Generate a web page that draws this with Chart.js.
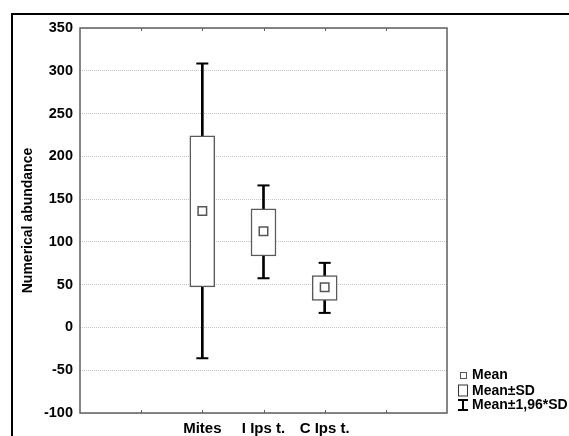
<!DOCTYPE html>
<html>
<head>
<meta charset="utf-8">
<script src="https://cdn.jsdelivr.net/npm/chart.js@4.4.1/dist/chart.umd.min.js"></script>
<style>
  html, body { margin: 0; padding: 0; background: #fff; }
  #wrap { width: 569px; height: 436px; position: relative; }
</style>
</head>
<body>
<div id="wrap"><canvas id="myChart"></canvas></div>
<script>
// categories and values
const categories = ["Mites", "I Ips t.", "C Ips t."];
const means = [136, 112.5, 47];
const sdLow = [47.5, 83.5, 31.5];
const sdHigh = [224, 138.5, 60.5];
const ciLow = [-36, 57.5, 17];
const ciHigh = [308.5, 166, 75.5];
const yMin = -100;
const yMax = 350;
const yStep = 50;
const legendLabels = ["Mean", "Mean\u00b1SD", "Mean\u00b11,96*SD"];

// two empty slots on each side, like the original axis
const pad = (a) => [null, null, ...a, null, null];
const labels = pad(categories).map((c) => (c === null ? "" : c));

Chart.defaults.font.family = "'Liberation Sans', Arial, sans-serif";
Chart.defaults.font.weight = "bold";
Chart.defaults.font.size = 14;
Chart.defaults.color = "#000";

const frame = {
  id: "frame",
  afterDraw(chart) {
    const ctx = chart.ctx;
    const a = chart.chartArea;
    const x = chart.scales.x;
    ctx.save();
    // outer black frame
    ctx.strokeStyle = "#000";
    ctx.lineWidth = 2;
    ctx.strokeRect(12, 14, 700, 600);
    // plot box
    ctx.strokeStyle = "#5f5f5f";
    ctx.lineWidth = 1.5;
    ctx.strokeRect(a.left, a.top, a.right - a.left, a.bottom - a.top);
    // small inward ticks on top and bottom
    ctx.lineWidth = 1;
    for (let i = 1; i < labels.length - 1; i++) {
      const px = Math.round(x.getPixelForTick(i)) + 0.5;
      ctx.beginPath();
      ctx.moveTo(px, a.top);
      ctx.lineTo(px, a.top + 3);
      ctx.moveTo(px, a.bottom);
      ctx.lineTo(px, a.bottom - 3);
      ctx.stroke();
    }
    // legend
    const lx = a.right + 13;
    const rows = [375, 390.5, 405];
    ctx.strokeStyle = "#555";
    ctx.lineWidth = 1;
    ctx.strokeRect(lx + 0.5, rows[0] - 2.5, 6, 6);
    ctx.strokeStyle = "#333";
    ctx.strokeRect(lx - 1.5, rows[1] - 5.5, 9, 11);
    ctx.strokeStyle = "#000";
    ctx.lineWidth = 2;
    ctx.beginPath();
    ctx.moveTo(lx + 3, rows[2] - 5);
    ctx.lineTo(lx + 3, rows[2] + 5);
    ctx.moveTo(lx - 2, rows[2] - 5);
    ctx.lineTo(lx + 8, rows[2] - 5);
    ctx.moveTo(lx - 2, rows[2] + 5);
    ctx.lineTo(lx + 8, rows[2] + 5);
    ctx.stroke();
    ctx.fillStyle = "#000";
    ctx.font = "bold 14px 'Liberation Sans', Arial, sans-serif";
    ctx.textBaseline = "middle";
    ctx.textAlign = "left";
    legendLabels.forEach((t, i) => ctx.fillText(t, lx + 12, rows[i] + 0.5));
    ctx.restore();
  },
};

const ctx = document.getElementById("myChart");
new Chart(ctx, {
  type: "bar",
  data: {
    labels: labels,
    datasets: [
      {
        label: "Mean\u00b11,96*SD",
        data: pad(ciLow.map((v, i) => [v, ciHigh[i]])),
        backgroundColor: "#000",
        borderWidth: 0,
        barThickness: 2,
        grouped: false,
        order: 4,
      },
      {
        label: "Mean\u00b1SD",
        data: pad(sdLow.map((v, i) => [v, sdHigh[i]])),
        backgroundColor: "#fff",
        borderColor: "#5a5a5a",
        borderWidth: 1.5,
        borderSkipped: false,
        barThickness: 25,
        grouped: false,
        order: 3,
      },
      {
        type: "line",
        label: "caps high",
        data: pad(ciHigh),
        showLine: false,
        pointStyle: "line",
        pointRadius: 6,
        pointBorderWidth: 2,
        borderColor: "#000",
        order: 2,
      },
      {
        type: "line",
        label: "caps low",
        data: pad(ciLow),
        showLine: false,
        pointStyle: "line",
        pointRadius: 6,
        pointBorderWidth: 2,
        borderColor: "#000",
        order: 2,
      },
      {
        type: "line",
        label: "Mean",
        data: pad(means),
        showLine: false,
        pointStyle: "rect",
        pointRadius: 6,
        pointBorderWidth: 1.5,
        pointBorderColor: "#555",
        pointBackgroundColor: "#fff",
        order: 1,
      },
    ],
  },
  options: {
    responsive: true,
    maintainAspectRatio: false,
    animation: false,
    devicePixelRatio: 1,
    layout: { padding: { left: 0, top: 28, right: 122, bottom: 0 } },
    plugins: { legend: { display: false }, tooltip: { enabled: false } },
    scales: {
      x: {
        offset: false,
        grid: { display: false, drawTicks: false },
        border: { display: false },
        ticks: { padding: 7, autoSkip: false, maxRotation: 0, font: { size: 15 } },
        afterFit: (s) => { s.height = 23; },
      },
      y: {
        min: yMin,
        max: yMax,
        grid: { color: "#c4c4c4", lineWidth: 1, drawTicks: false },
        border: { display: false, dash: [1, 1] },
        ticks: { stepSize: yStep, padding: 7, font: { size: 14.5 } },
        title: {
          display: true,
          text: "Numerical abundance",
          font: { size: 14, weight: "bold" },
          padding: { top: 20, bottom: 0 },
        },
        afterFit: (s) => { s.width = 80; },
      },
    },
  },
  plugins: [frame],
});
</script>
</body>
</html>
